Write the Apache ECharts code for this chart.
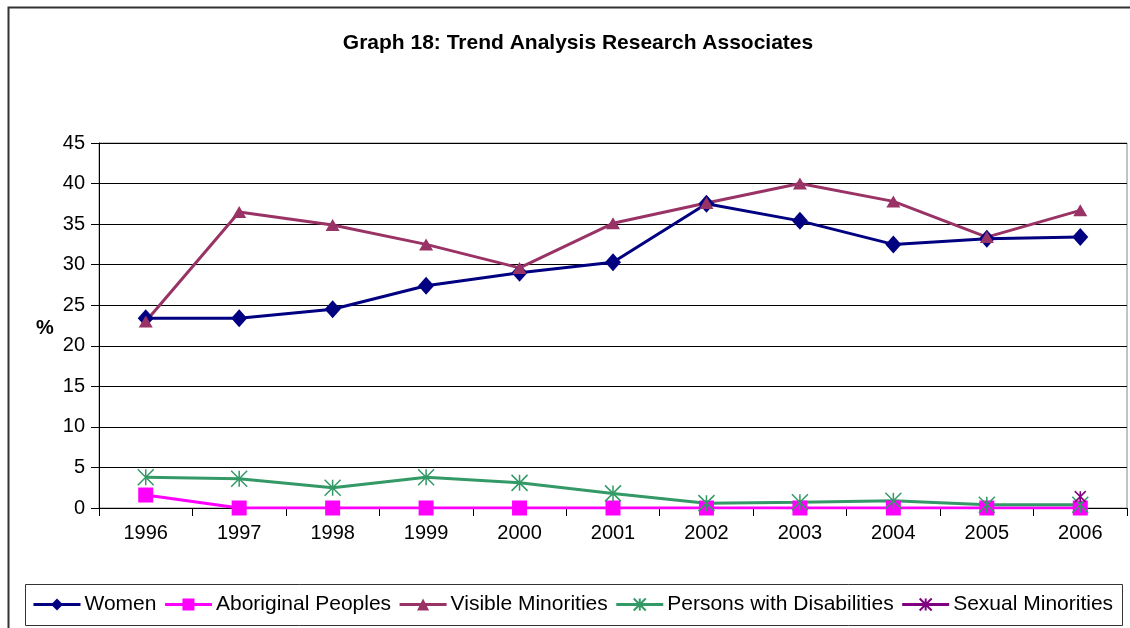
<!DOCTYPE html>
<html>
<head>
<meta charset="utf-8">
<script src="https://cdn.jsdelivr.net/npm/echarts@6/dist/echarts.min.js"></script>
<style>
html,body{margin:0;padding:0;background:#fff;}
#chart{width:1130px;height:628px;}
</style>
</head>
<body>
<div id="chart"></div>
<script>
var years = ['1996','1997','1998','1999','2000','2001','2002','2003','2004','2005','2006'];
var women = [23.4, 23.4, 24.5, 27.4, 29.0, 30.3, 37.5, 35.4, 32.5, 33.2, 33.4];
var aboriginal = [1.6, 0, 0, 0, 0, 0, 0, 0, 0, 0, 0];
var visible = [23.0, 36.5, 34.9, 32.5, 29.6, 35.1, 37.6, 40.0, 37.8, 33.4, 36.7];
var disabilities = [3.8, 3.6, 2.5, 3.8, 3.1, 1.8, 0.6, 0.7, 0.9, 0.4, 0.4];
var sexual = [null, null, null, null, null, null, null, null, null, null, 1.4];
var yTicks = {min: 0, max: 45, step: 5};

var FONT = '"Liberation Sans", Arial, sans-serif';
var asterisk = 'path://M0,0L10,10M10,0L0,10M5,0L5,10';

var chart = echarts.init(document.getElementById('chart'), null, {renderer: 'canvas'});
chart.setOption({
  animation: false,
  backgroundColor: '#fff',
  textStyle: {fontFamily: FONT, color: '#000'},
  title: {
    text: 'Graph 18: Trend Analysis Research Associates',
    left: 573, textAlign: 'center', top: 28,
    textStyle: {fontFamily: FONT, fontWeight: 'bold', fontSize: 21, color: '#000'}
  },
  grid: {left: 99, right: 3, top: 143, bottom: 120, show: true, borderColor: '#888', borderWidth: 1, containLabel: false},
  xAxis: {
    type: 'category', data: years, boundaryGap: true,
    axisLine: {lineStyle: {color: '#000', width: 1}},
    axisTick: {show: true, length: 8, lineStyle: {color: '#000'}},
    axisLabel: {fontSize: 20, color: '#000', margin: 15, fontFamily: FONT}
  },
  yAxis: {
    type: 'value', min: yTicks.min, max: yTicks.max, interval: yTicks.step,
    axisLine: {show: true, lineStyle: {color: '#000', width: 1}},
    axisTick: {show: true, length: 8, lineStyle: {color: '#000'}},
    axisLabel: {fontSize: 20, color: '#000', margin: 14, fontFamily: FONT},
    splitLine: {show: true, lineStyle: {color: '#000', width: 1}}
  },
  legend: {
    left: 32, top: 594, padding: 0, itemGap: 7, itemWidth: 47, itemHeight: 15,
    lineStyle: {width: 3},
    textStyle: {fontSize: 21, color: '#000', fontFamily: FONT, padding: [0,0,0,-1]},
    data: ['Women','Aboriginal Peoples','Visible Minorities','Persons with Disabilities','Sexual Minorities']
  },
  graphic: [
    {type: 'rect', shape: {x: 8.5, y: 7.5, width: 1200, height: 700}, style: {fill: 'none', stroke: '#333', lineWidth: 2}, silent: true},
    {type: 'rect', shape: {x: 25.5, y: 584.5, width: 1097, height: 41}, style: {fill: 'none', stroke: '#333', lineWidth: 1}, silent: true},
    {type: 'text', left: 36, top: 318, style: {text: '%', font: 'bold 20px ' + FONT, fill: '#000'}, silent: true}
  ],
  series: [
    {name: 'Women', type: 'line', data: women, symbol: 'diamond', symbolSize: [16, 18],
     lineStyle: {color: '#000080', width: 3}, itemStyle: {color: '#000080'}},
    {name: 'Aboriginal Peoples', type: 'line', data: aboriginal, symbol: 'rect', symbolSize: 15,
     lineStyle: {color: '#FF00FF', width: 3}, itemStyle: {color: '#FF00FF'}},
    {name: 'Visible Minorities', type: 'line', data: visible, symbol: 'triangle', symbolSize: [14, 12],
     lineStyle: {color: '#993366', width: 3}, itemStyle: {color: '#993366'}},
    {name: 'Persons with Disabilities', type: 'line', data: disabilities, symbol: asterisk, symbolSize: 16,
     lineStyle: {color: '#339966', width: 3}, itemStyle: {color: '#339966', borderColor: '#339966', borderWidth: 1.5}},
    {name: 'Sexual Minorities', type: 'line', data: sexual, symbol: asterisk, symbolSize: 11,
     lineStyle: {color: '#800080', width: 2}, itemStyle: {color: '#800080', borderColor: '#800080', borderWidth: 1.5}}
  ]
});
</script>
</body>
</html>
